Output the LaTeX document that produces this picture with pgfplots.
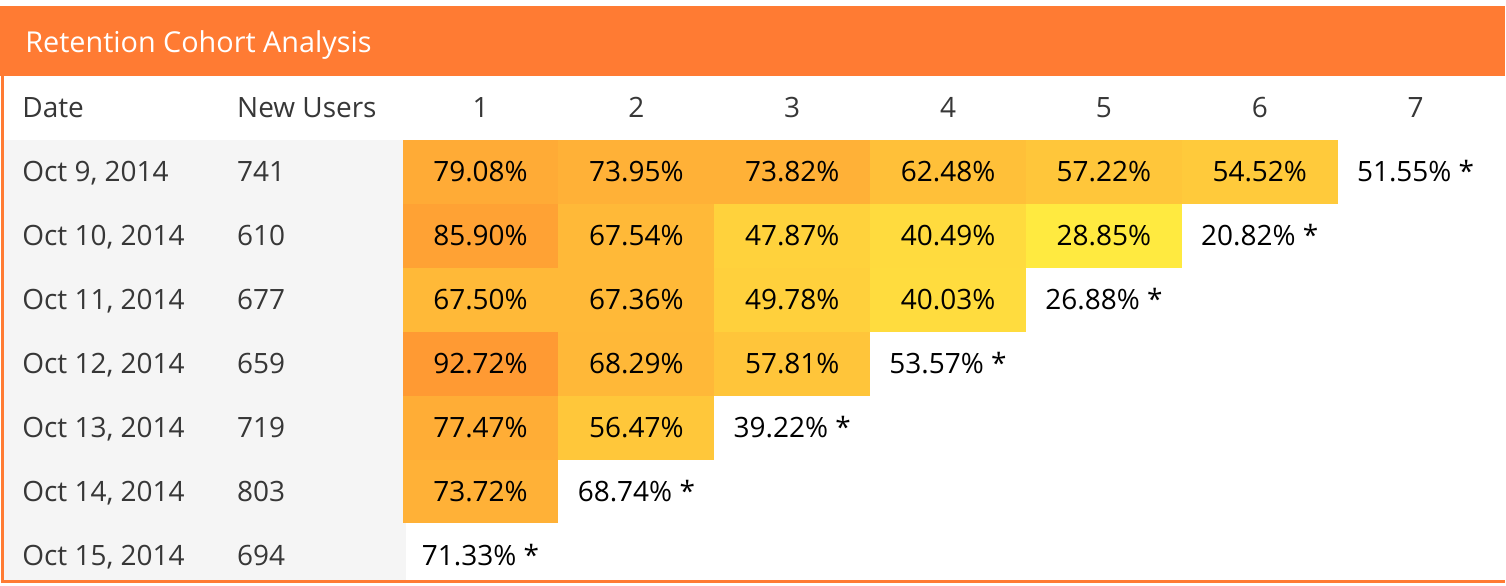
\documentclass[border=0pt]{standalone}
\usepackage{pgfplots}
\pgfplotsset{compat=1.18}
\usepackage{pgfplotstable}
\usepackage{fontspec}
\setmainfont{Open Sans}
\definecolor{hdr}{RGB}{255,123,51}
\definecolor{graybg}{RGB}{245,245,245}
\definecolor{txt}{RGB}{55,55,55}
\pgfdeclareplotmark{cell}{\pgfpathrectangle{\pgfpoint{-39pt}{-16pt}}{\pgfpoint{78pt}{32pt}}\pgfusepathqfill}
\pgfdeclareplotmark{blank}{}
\pgfkeys{/pgf/number format/assume math mode=true}

\pgfplotstableread{
c r v
1 1 79.08
2 1 73.95
3 1 73.82
4 1 62.48
5 1 57.22
6 1 54.52
1 2 85.90
2 2 67.54
3 2 47.87
4 2 40.49
5 2 28.85
1 3 67.50
2 3 67.36
3 3 49.78
4 3 40.03
1 4 92.72
2 4 68.29
3 4 57.81
1 5 77.47
2 5 56.47
1 6 73.72
}\cellstab

\pgfplotstableread{
c r v
7 1 51.55
6 2 20.82
5 3 26.88
4 4 53.57
3 5 39.22
2 6 68.74
1 7 71.33
}\partialtab

\pgfplotstableread[col sep=semicolon]{
r;d;n
1;Oct 9, 2014;741
2;Oct 10, 2014;610
3;Oct 11, 2014;677
4;Oct 12, 2014;659
5;Oct 13, 2014;719
6;Oct 14, 2014;803
7;Oct 15, 2014;694
}\rowstab

\pgfplotstableread{
c y
1 108
2 108
3 108
4 108
5 108
6 108
7 108
}\colstab

\begin{document}
\begin{tikzpicture}
\begin{axis}[
  scale only axis, width=753pt, height=293pt,
  xmin=0, xmax=1506, ymin=0, ymax=586, y dir=reverse,
  axis lines=none, clip=false,
  colormap={ret}{rgb255(0cm)=(255,234,64) rgb255(1cm)=(255,154,51)},
  point meta min=28.85, point meta max=92.72,
  every node near coord/.append style={font=\fontsize{14}{16}\selectfont, anchor=base, yshift=-5pt, inner sep=0pt},
]
\path[fill=white] (axis cs:0,0) rectangle (axis cs:1506,586);
\fill[hdr] (axis cs:0,6) rectangle (axis cs:1506,76);
\fill[graybg] (axis cs:4,140) rectangle (axis cs:406,581);
\draw[hdr, line width=1.5pt] (axis cs:3,76) -- (axis cs:3,582.5) -- (axis cs:1506,582.5);
\node[anchor=base west, text=white, font=\fontsize{14.4}{16}\selectfont, inner sep=0pt] at (axis cs:25,53) {Retention Cohort Analysis};
\node[anchor=base west, text=txt, font=\fontsize{14}{16}\selectfont, inner sep=0pt] at (axis cs:22,118) {Date};
\node[anchor=base west, text=txt, font=\fontsize{14}{16}\selectfont, inner sep=0pt] at (axis cs:237,118) {New Users};
% column headers
\addplot[only marks, mark=blank, point meta=explicit symbolic,
  nodes near coords, every node near coord/.append style={text=txt}]
  table[x expr={481+156*(\thisrow{c}-1)}, y=y, meta=c] {\colstab};
% coloured cells
\addplot[scatter, only marks, mark=cell, scatter/use mapped color={fill=mapped color, draw=mapped color},
  point meta=explicit]
  table[x expr={481+156*(\thisrow{c}-1)}, y expr={172+64*(\thisrow{r}-1)}, meta=v] {\cellstab};
% cell labels
\addplot[only marks, mark=blank, point meta=explicit,
  nodes near coords={\pgfmathprintnumber[fixed,fixed zerofill,precision=2]{\pgfplotspointmeta}\%},
  every node near coord/.append style={text=black}]
  table[x expr={481+156*(\thisrow{c}-1)}, y expr={172+64*(\thisrow{r}-1)}, meta=v] {\cellstab};
% partial (starred) cells
\addplot[only marks, mark=blank, point meta=explicit,
  nodes near coords={\pgfmathprintnumber[fixed,fixed zerofill,precision=2]{\pgfplotspointmeta}\% *},
  every node near coord/.append style={text=black}]
  table[x expr={481+156*(\thisrow{c}-1)}, y expr={172+64*(\thisrow{r}-1)}, meta=v] {\partialtab};
% dates
\addplot[only marks, mark=blank, point meta=explicit symbolic,
  nodes near coords, every node near coord/.append style={anchor=base west, text=txt}]
  table[x expr=22, y expr={172+64*(\thisrow{r}-1)}, meta=d] {\rowstab};
% new users
\addplot[only marks, mark=blank, point meta=explicit symbolic,
  nodes near coords, every node near coord/.append style={anchor=base west, text=txt}]
  table[x expr=237, y expr={172+64*(\thisrow{r}-1)}, meta=n] {\rowstab};
\end{axis}
\end{tikzpicture}
\end{document}
